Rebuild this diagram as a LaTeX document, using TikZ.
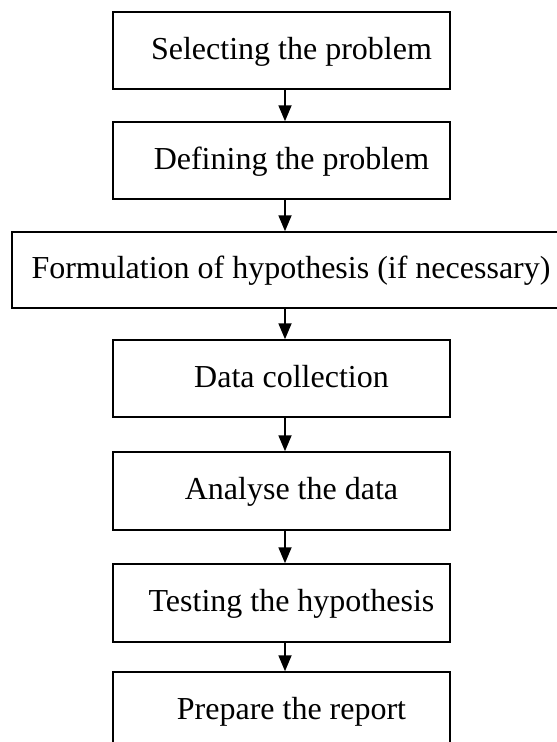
\documentclass[tikz,border=0pt]{standalone}
\usepackage{fontspec}
\setmainfont{Liberation Serif}
\usetikzlibrary{arrows.meta}
\begin{document}
\begin{tikzpicture}[x=1pt,y=-1pt,
  stepbox/.style={draw,line width=1.5pt,minimum width=337pt,minimum height=77pt,
    inner sep=0pt,text height=21pt,text depth=4pt,font=\fontsize{32}{38}\selectfont},
  flow/.style={line width=1.8pt,-{Triangle[length=16pt,width=13pt]}}]
\useasboundingbox (0,0) rectangle (557,742);
\clip (0,0) rectangle (557,742);
\node[stepbox] (sel) at (281.5,50.5) {\hspace{20pt}Selecting the problem};
\node[stepbox] (def) at (281.5,160.5) {\hspace{20pt}Defining the problem};
\node[stepbox,minimum width=558pt,minimum height=76pt] (hyp) at (291,270) {Formulation of hypothesis (if necessary)};
\node[stepbox] (dat) at (281.5,378.5) {\hspace{20pt}Data collection};
\node[stepbox,minimum height=78pt] (ana) at (281.5,491) {\hspace{20pt}Analyse the data};
\node[stepbox,minimum height=78pt] (tes) at (281.5,603) {\hspace{20pt}Testing the hypothesis};
\node[stepbox,minimum height=78pt] (rep) at (281.5,711) {\hspace{20pt}Prepare the report};
\coordinate (a2) at ([xshift=3.5pt]def.south);
\coordinate (a3) at ([xshift=3.5pt]dat.north);
\draw[flow] ([xshift=3.5pt]sel.south) -- ([xshift=3.5pt]def.north);
\draw[flow] (a2) -- (a2 |- hyp.north);
\draw[flow] (a3 |- hyp.south) -- (a3);
\draw[flow] ([xshift=3.5pt]dat.south) -- ([xshift=3.5pt]ana.north);
\draw[flow] ([xshift=3.5pt]ana.south) -- ([xshift=3.5pt]tes.north);
\draw[flow] ([xshift=3.5pt]tes.south) -- ([xshift=3.5pt]rep.north);
\end{tikzpicture}
\end{document}
